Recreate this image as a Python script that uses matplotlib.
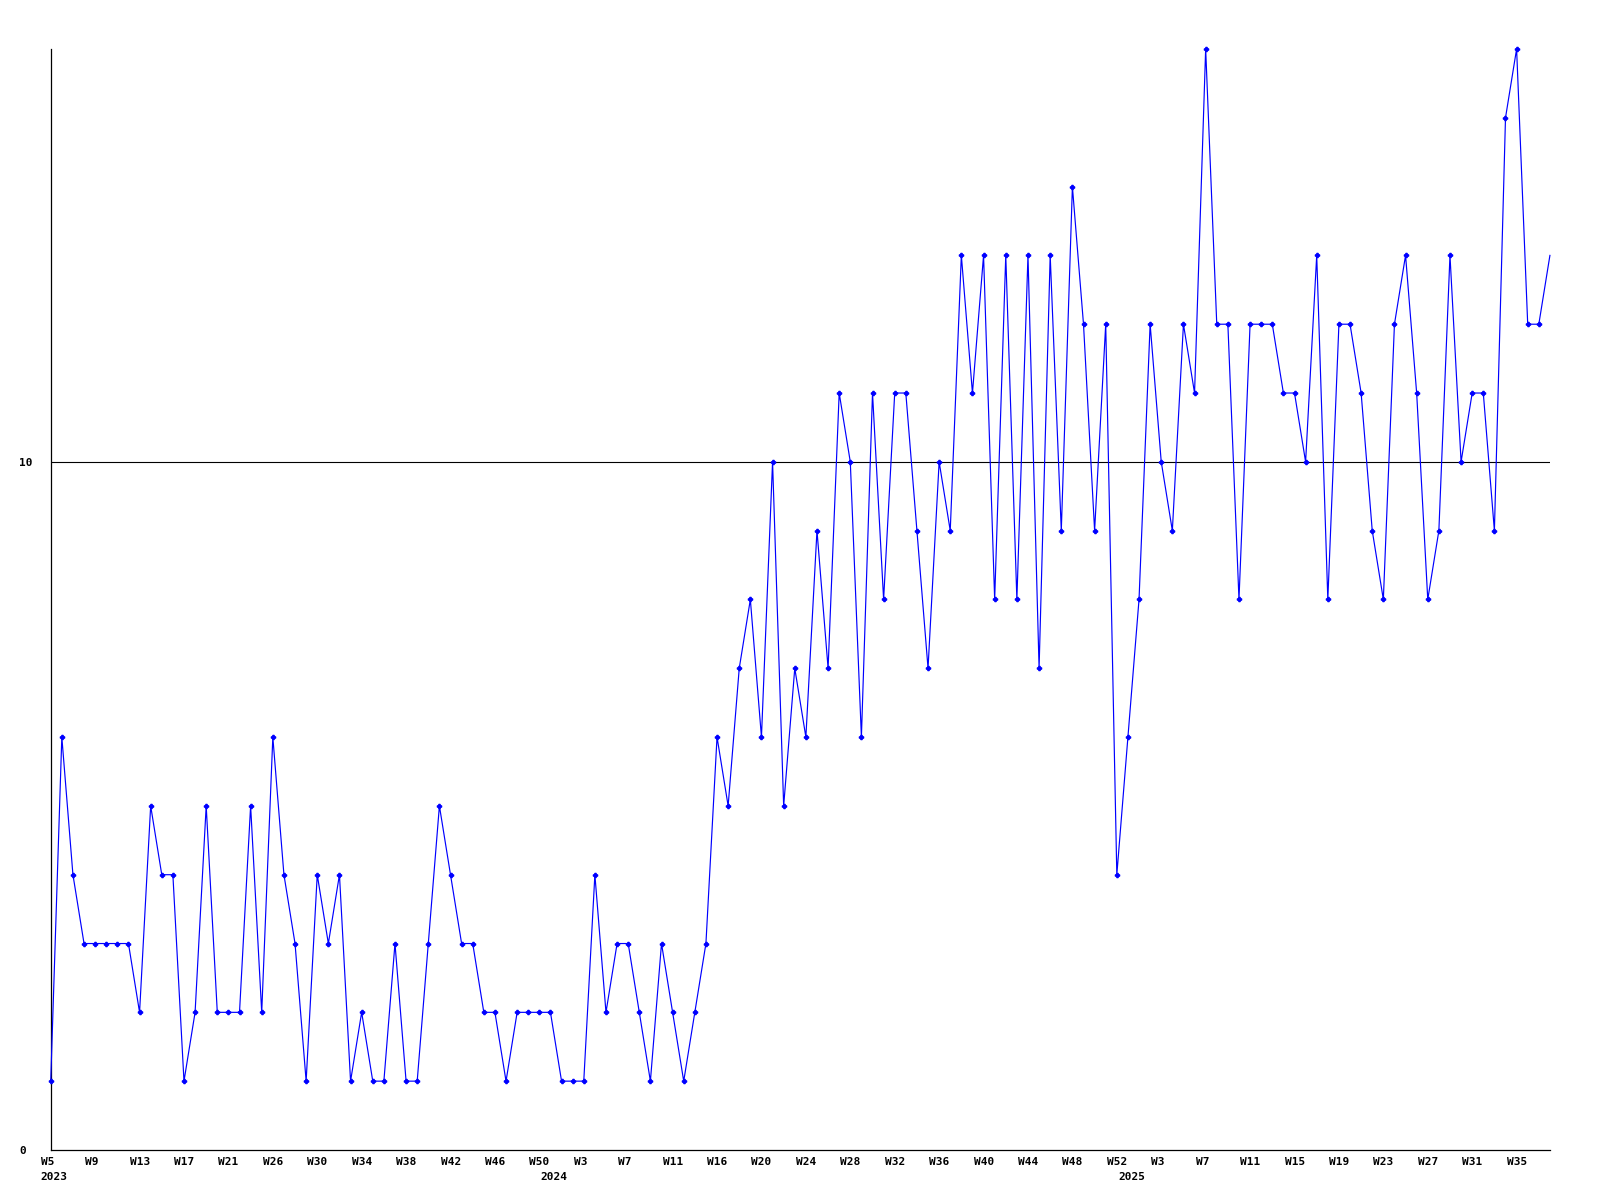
import numpy as np
import matplotlib
matplotlib.use("Agg")
import matplotlib.pyplot as plt
from matplotlib.transforms import ScaledTranslation, blended_transform_factory

# weekly counts, 2023 W5 .. 2025
counts = [
    1, 6, 4, 3, 3, 3, 3, 3, 2, 5,
    4, 4, 1, 2, 5, 2, 2, 2, 5, 2,
    6, 4, 3, 1, 4, 3, 4, 1, 2, 1,
    1, 3, 1, 1, 3, 5, 4, 3, 3, 2,
    2, 1, 2, 2, 2, 2, 1, 1, 1, 4,
    2, 3, 3, 2, 1, 3, 2, 1, 2, 3,
    6, 5, 7, 8, 6, 10, 5, 7, 6, 9,
    7, 11, 10, 6, 11, 8, 11, 11, 9, 7,
    10, 9, 13, 11, 13, 8, 13, 8, 13, 7,
    13, 9, 14, 12, 9, 12, 4, 6, 8, 12,
    10, 9, 12, 11, 16, 12, 12, 8, 12, 12,
    12, 11, 11, 10, 13, 8, 12, 12, 11, 9,
    8, 12, 13, 11, 8, 9, 13, 10, 11, 11,
    9, 15, 16, 12, 12, 13,
]

week_labels = [
    "W5", "W9", "W13", "W17", "W21", "W26", "W30", "W34", "W38", "W42",
    "W46", "W50", "W3", "W7", "W11", "W16", "W20", "W24", "W28", "W32",
    "W36", "W40", "W44", "W48", "W52", "W3", "W7", "W11", "W15", "W19",
    "W23", "W27", "W31", "W35",
]
year_labels = ["2023", "2024", "2025"]
year_start = [0, 45, 97]   # index of the first week shown for each year

y_ticks = [0, 10]

font = dict(family="DejaVu Sans Mono", weight="bold", size=8)

fig = plt.figure(figsize=(16, 12), dpi=100)
ax = fig.add_axes([0.0317, 0.0417, 0.937, 0.9175])

x = np.arange(len(counts))
ax.axhline(10, color="black", lw=0.8, zorder=1)
ax.plot(x, counts, color="#0000ff", lw=0.85, marker="P", ms=3.0,
        markevery=slice(0, len(counts) - 1), clip_on=False, zorder=3)

ax.set_xlim(0, len(counts) - 1)
ax.set_ylim(0, 16)

for side in ("top", "right"):
    ax.spines[side].set_visible(False)
for side in ("left", "bottom"):
    ax.spines[side].set_linewidth(0.9)
    ax.spines[side].set_color("black")

# week ticks every 4 points, labels start a little left of the point
ax.set_xticks(np.arange(0, 4 * len(week_labels), 4))
ax.set_xticklabels(week_labels, fontdict=font)
ax.tick_params(axis="x", length=0, pad=5)
shift = ScaledTranslation(-0.10, 0, fig.dpi_scale_trans)
for lbl in ax.get_xticklabels():
    lbl.set_horizontalalignment("left")
    lbl.set_transform(lbl.get_transform() + shift)

# year row under the week labels
trans = blended_transform_factory(ax.transData, ax.transAxes)
for yr, pos in zip(year_labels, year_start):
    ax.text(pos, 0, yr, transform=trans + ScaledTranslation(-0.10, -0.22, fig.dpi_scale_trans),
            ha="left", va="top", clip_on=False, **font)

ax.set_yticks(y_ticks)
ax.set_yticklabels([str(v) for v in y_ticks], fontdict=font)
ax.tick_params(axis="y", length=0, pad=22.5)
for lbl in ax.get_yticklabels():
    lbl.set_horizontalalignment("left")

fig.savefig("out.png", dpi=100, facecolor="white")
